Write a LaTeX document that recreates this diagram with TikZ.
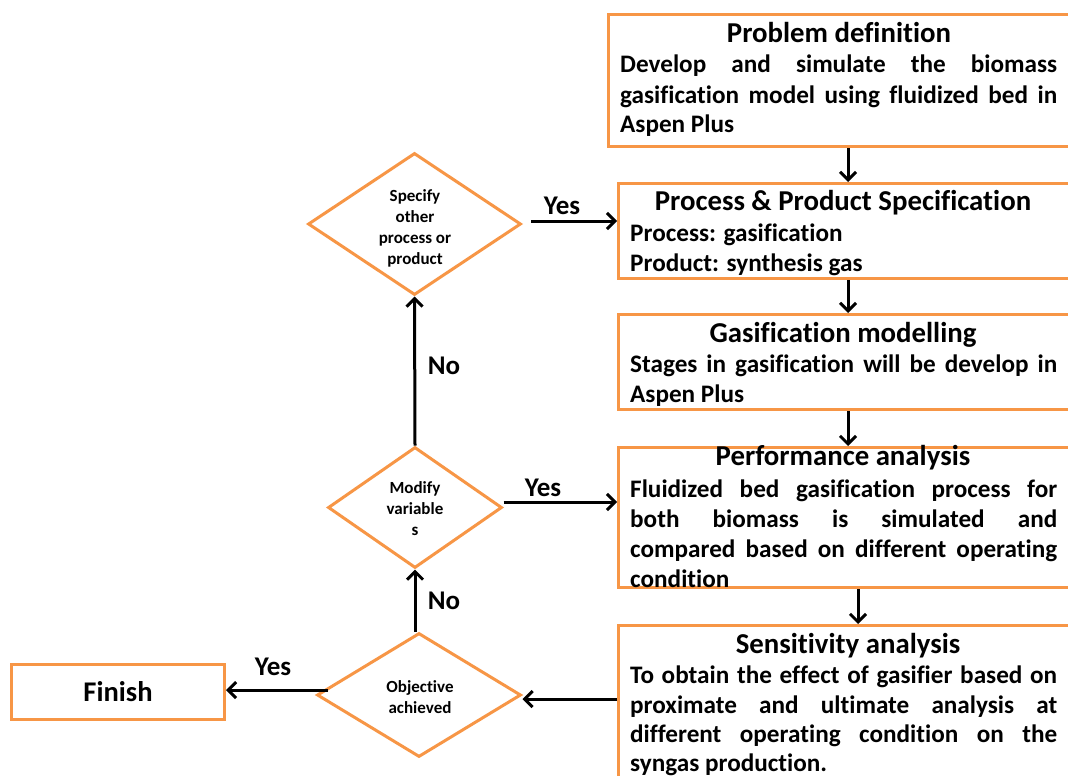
\documentclass[tikz,border=0pt]{standalone}
\usepackage{fontspec}
\setmainfont{Carlito}[Ligatures={NoCommon}]
\usetikzlibrary{arrows.meta,shapes.geometric}
\definecolor{orng}{RGB}{247,150,70}
\begin{document}
\begin{tikzpicture}[x=1pt,y=-1pt,
  box/.style={draw=orng,line width=3pt,fill=white,anchor=north west,inner sep=0pt,rectangle},
  dia/.style={draw=orng,line width=3pt,fill=white,diamond,inner sep=0pt},
  arr/.style={line width=3pt,-{Straight Barb[length=8pt,width=16pt,line width=3pt]}},
  ttl/.style={anchor=base,inner sep=0pt,font=\fontsize{28.8}{34}\selectfont\bfseries},
  bdy/.style={anchor=base west,inner sep=0pt,font=\fontsize{25.2}{30}\selectfont\bfseries},
  dtx/.style={align=center,inner sep=0pt,font=\fontsize{17}{21}\selectfont\bfseries},
  lbl/.style={inner sep=0pt,font=\fontsize{27}{32}\selectfont\bfseries}
]
\useasboundingbox (0,0) rectangle (1068,776);
% boxes
\node[box,minimum width=463pt,minimum height=132pt] (b1) at (607,13) {};
\node[box,minimum width=453pt,minimum height=95pt] (b2) at (617,182) {};
\node[box,minimum width=453pt,minimum height=95pt] (b3) at (617,313) {};
\node[box,minimum width=453pt,minimum height=140pt] (b4) at (617,446) {};
\node[box,minimum width=453pt,minimum height=200pt] (b5) at (617,624) {};
\node[box,minimum width=213pt,minimum height=55pt,font=\fontsize{28.5}{34}\selectfont\bfseries] (fin) at (10,663) {Finish};
% diamonds
\node[dia,minimum width=213pt,minimum height=142pt] (spec) at (414.5,224) {};
\node[dia,minimum width=174pt,minimum height=121pt] (mod) at (415,507.5) {};
\node[dia,minimum width=204pt,minimum height=124pt] (obj) at (419,695) {};
% box texts
\node[ttl] (t1) at (839,43) {Problem definition};
\node[bdy] (l11) at (620,73) {\makebox[437pt][s]{Develop and simulate the biomass}};
\node[bdy] (l12) at (620,103) {\makebox[437pt][s]{gasification model using fluidized bed in}};
\node[bdy] (l13) at (620,132) {Aspen Plus};
\node[ttl] (t2) at (843,210) {Process \& Product Specification};
\node[bdy] (l21) at (630,241) {Process: gasification};
\node[bdy] (l22) at (630,271) {Product: synthesis gas};
\node[ttl] (t3) at (843,342) {Gasification modelling};
\node[bdy] (l31) at (630,372) {\makebox[427pt][s]{Stages in gasification will be develop in}};
\node[bdy] (l32) at (630,402) {Aspen Plus};
\node[ttl] (t4) at (843,465) {Performance analysis};
\node[bdy] (l41) at (630,497) {\makebox[427pt][s]{Fluidized bed gasification process for}};
\node[bdy] (l42) at (630,527) {\makebox[427pt][s]{both biomass is simulated and}};
\node[bdy] (l43) at (630,557) {\makebox[427pt][s]{compared based on different operating}};
\node[bdy] (l44) at (630,587) {condition};
\node[ttl] (t5) at (848,653) {Sensitivity analysis};
\node[bdy] (l51) at (630,683) {\makebox[427pt][s]{To obtain the effect of gasifier based on}};
\node[bdy] (l52) at (630,713) {\makebox[427pt][s]{proximate and ultimate analysis at}};
\node[bdy] (l53) at (630,742) {\makebox[427pt][s]{different operating condition on the}};
\node[bdy] (l54) at (630,771) {syngas production.};
% diamond texts
\node[dtx] (st) at (415,228) {Specify\\other\\process or\\product};
\node[dtx] (mt) at (415,509) {Modify\\variable\\s};
\node[dtx] (ot) at (420,697) {Objective\\achieved};
% connectors
\draw[arr] (848,0 |- b1.south) -- (848,0 |- b2.north);
\draw[arr] (848,0 |- b2.south) -- (848,0 |- b3.north);
\draw[arr] (848,0 |- b3.south) -- (848,0 |- b4.north);
\draw[arr] (858,0 |- b4.south) -- (858,0 |- b5.north);
\draw[arr] (b5.west |- 0,699) -- (obj.east |- 0,699);
\draw[arr] (328,690) -- (fin.east |- 0,690);
\draw[arr] (mod.south |- obj.north) -- (mod.south);
\draw[arr] (mod.north) -- (spec.south);
\draw[arr] (mod.east |- 0,502) -- (b4.west |- 0,502);
\draw[arr] (531,221) -- (b2.west |- 0,221);
% labels
\node[lbl] (y1) at (562,206) {Yes};
\node[lbl] (y2) at (543,488) {Yes};
\node[lbl] (y3) at (273,667) {Yes};
\node[lbl] (n1) at (444,366) {No};
\node[lbl] (n2) at (444,601) {No};
\end{tikzpicture}
\end{document}
